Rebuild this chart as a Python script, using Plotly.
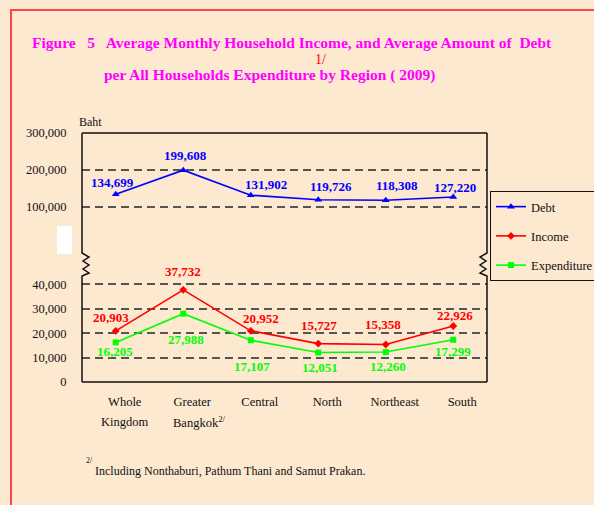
import plotly.graph_objects as go

# ---------------- data ----------------
categories = ["Whole Kingdom", "Greater Bangkok", "Central", "North", "Northeast", "South"]
label_line1 = ["Whole", "Greater", "Central", "North", "Northeast", "South"]
label_line2 = ["Kingdom", "Bangkok<sup>2/</sup>", "", "", "", ""]
debt = [134699, 199608, 131902, 119726, 118308, 127220]
income = [20903, 37732, 20952, 15727, 15358, 22926]
expenditure = [16205, 27988, 17107, 12051, 12260, 17299]
upper_ticks = [0, 100000, 200000, 300000]
upper_tick_text = [" ", "100,000", "200,000", "300,000"]
lower_ticks = [0, 10000, 20000, 30000, 40000]
lower_tick_text = ["0", "10,000", "20,000", "30,000", "40,000"]

# ---------------- style ----------------
BG = "#FDE8D0"
SERIF = "Liberation Serif, Times New Roman, serif"
GRID = "#555555"
DASH = "8px,5px"
W_L, W_R, W_T, W_B = 82, 487, 133, 382  # plot area in pixels


def px(x):
    return (x - W_L) / (W_R - W_L)


def py(y):
    return (W_B - y) / (W_B - W_T)


split = py(244)
lower_top = 40000 * (W_B - 244) / (W_B - 284.3)

# label offsets (pixels, screen-down positive)
debt_off = [(-3, -12), (2, -14.5), (15, -11), (13, -13), (11, -15), (2, -9)]
inc_off = [(-5, -13), (0, -18), (10, -12), (1, -18), (-3, -20), (1.5, -11)]
exp_off = [(-1, 9.5), (2.5, 26), (1, 26), (2, 15), (2, 14), (-0.5, 11.5)]

fig = go.Figure()
fig.add_trace(go.Scatter(
    x=categories, y=debt, name="Debt", yaxis="y2", mode="lines+markers",
    line=dict(color="#0000FF", width=1.6),
    marker=dict(symbol="triangle-up", size=7, color="#0000FF"),
    legendgroup="d"))
fig.add_trace(go.Scatter(
    x=categories, y=income, name="Income", mode="lines+markers",
    line=dict(color="#FF0000", width=1.6),
    marker=dict(symbol="diamond", size=6, color="#FF0000"),
    legendgroup="i"))
fig.add_trace(go.Scatter(
    x=categories, y=expenditure, name="Expenditure", mode="lines+markers",
    line=dict(color="#00FF00", width=1.6),
    marker=dict(symbol="square", size=6, color="#00FF00"),
    legendgroup="e"))

ann = []


def fmt(v):
    return f"{v:,}"


for vals, offs, col, yref in [(debt, debt_off, "#0000FF", "y2"),
                              (income, inc_off, "#FF0000", "y"),
                              (expenditure, exp_off, "#00FF00", "y")]:
    for c, v, (dx, dy) in zip(categories, vals, offs):
        ann.append(dict(x=c, y=v, xref="x", yref=yref, text=f"<b>{fmt(v)}</b>",
                        showarrow=False, xshift=dx, yshift=-dy,
                        font=dict(family=SERIF, size=13, color=col)))

# second line of category labels
line2_shift = [9, 16, 0, 0, 0, 0]
for c, t, s in zip(categories, label_line2, line2_shift):
    if t:
        ann.append(dict(x=c, y=0, xref="x", yref="paper", text=t, showarrow=False,
                        xshift=s, yshift=-40, yanchor="middle",
                        font=dict(family=SERIF, size=12.5, color="#111111")))

# titles and notes
ann += [
    dict(x=px(30), y=py(43), xref="paper", yref="paper", xanchor="left", yanchor="middle",
         showarrow=False,
         text="<b>Figure\u00a0\u00a0 5\u00a0\u00a0 Average Monthly Household Income, and Average Amount of\u00a0 Debt</b>",
         font=dict(family=SERIF, size=15.5, color="#FF00FF")),
    dict(x=px(102), y=py(75), xref="paper", yref="paper", xanchor="left", yanchor="middle",
         showarrow=False,
         text="<b>per All Households Expenditure by Region ( 2009)</b>",
         font=dict(family=SERIF, size=15.5, color="#FF00FF")),
    dict(x=px(313), y=py(60), xref="paper", yref="paper", xanchor="left", yanchor="middle",
         showarrow=False, text="1/", font=dict(family=SERIF, size=14, color="#FF0000")),
    dict(x=px(77), y=py(122), xref="paper", yref="paper", xanchor="left", yanchor="middle",
         showarrow=False, text="Baht", font=dict(family=SERIF, size=12, color="#111111")),
    dict(x=px(84), y=py(460), xref="paper", yref="paper", xanchor="left", yanchor="middle",
         showarrow=False, text="2/", font=dict(family=SERIF, size=8, color="#111111")),
    dict(x=px(93), y=py(471), xref="paper", yref="paper", xanchor="left", yanchor="middle",
         showarrow=False, text="Including Nonthaburi, Pathum Thani and Samut Prakan.",
         font=dict(family=SERIF, size=12, color="#111111")),
]


def zig_path(x0, dirn):
    ys = [253, 257, 261, 265, 269, 273, 276]
    xs = [x0, x0 + 7 * dirn, x0 + dirn, x0 + 7 * dirn, x0 + dirn, x0 + 7 * dirn, x0]
    p = f"M {px(x0)},{py(W_T)} "
    for x, y in zip(xs, ys):
        p += f"L {px(x)},{py(y)} "
    p += f"L {px(x0)},{py(W_B)}"
    return p


shapes = [
    dict(type="path", xref="paper", yref="paper", path=zig_path(W_L, 1),
         line=dict(color="#111111", width=1.5)),
    dict(type="path", xref="paper", yref="paper", path=zig_path(W_R, -1),
         line=dict(color="#111111", width=1.5)),
    dict(type="line", xref="paper", yref="paper", x0=0, x1=1, y0=1, y1=1,
         line=dict(color="#111111", width=1.5)),
    dict(type="line", xref="paper", yref="paper", x0=0, x1=1, y0=0, y1=0,
         line=dict(color="#111111", width=1.5)),
    # page border
    dict(type="path", xref="paper", yref="paper",
         path=f"M {px(11)},{py(520)} L {px(11)},{py(10)} L {px(610)},{py(10)}",
         line=dict(color="#FF4444", width=2)),
    # white patch
    dict(type="rect", xref="paper", yref="paper", x0=px(57), x1=px(72), y0=py(254), y1=py(226),
         fillcolor="#FFFFFF", line=dict(width=0)),
]

fig.update_layout(
    width=594, height=505,
    margin=dict(l=W_L, r=594 - W_R, t=W_T, b=505 - W_B, pad=0, autoexpand=False),
    paper_bgcolor=BG, plot_bgcolor=BG,
    font=dict(family=SERIF, size=12.5, color="#111111"),
    xaxis=dict(type="category", range=[-0.5, 5.5], tickvals=categories, ticktext=label_line1,
               showgrid=False, zeroline=False, showline=False,
               ticks="outside", ticklen=8, tickcolor="rgba(0,0,0,0)", ticklabelshift=9,
               tickfont=dict(family=SERIF, size=12.5, color="#111111")),
    yaxis=dict(domain=[0, split], range=[0, lower_top], tickvals=lower_ticks,
               ticktext=lower_tick_text, showgrid=True, gridcolor=GRID, gridwidth=1.6,
               griddash=DASH, zeroline=False, showline=False, ticks="outside", ticklen=12,
               tickcolor="rgba(0,0,0,0)", tickfont=dict(family=SERIF, size=12.5, color="#111111")),
    yaxis2=dict(domain=[split, 1], range=[0, 300000], anchor="x", tickvals=upper_ticks,
                ticktext=upper_tick_text, showgrid=True, gridcolor=GRID, gridwidth=1.6,
                griddash=DASH, zeroline=False, showline=False, ticks="outside", ticklen=12,
                tickcolor="rgba(0,0,0,0)", tickfont=dict(family=SERIF, size=12.5, color="#111111")),
    legend=dict(x=px(490), y=py(191), xanchor="left", yanchor="top",
                bgcolor="rgba(0,0,0,0)", bordercolor="#111111", borderwidth=1,
                tracegroupgap=10, font=dict(family=SERIF, size=12.5, color="#111111")),
    showlegend=True,
    annotations=ann,
    shapes=shapes,
)

fig.write_html("out.html", config={"displayModeBar": False},
               post_script="document.body.style.margin='0';")
